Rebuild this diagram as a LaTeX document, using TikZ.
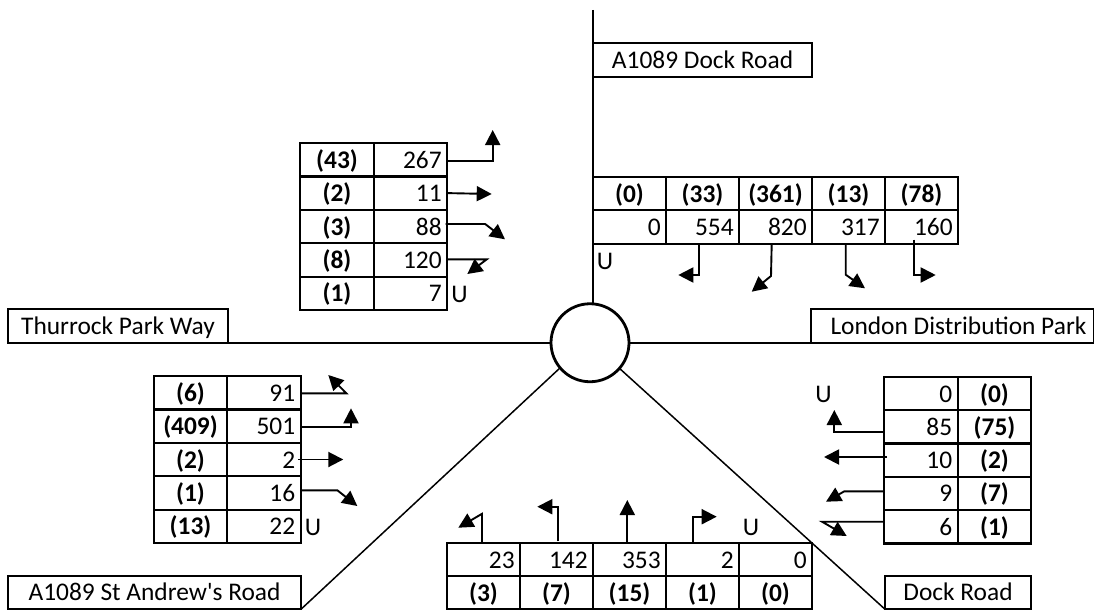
\documentclass[tikz,border=0pt]{standalone}
\usepackage{fontspec}
\setmainfont{Carlito}
\usetikzlibrary{arrows.meta}
\tikzset{
  cell/.style={draw=black,line width=2.2pt,minimum height=33.4pt,inner sep=0pt,outer sep=0pt,
    font=\fontsize{25.4}{25.4}\selectfont,text height=17pt,text depth=0pt},
  numcell/.style={cell,minimum width=73.3pt,text width=62.3pt,inner xsep=5.5pt,align=right},
  boldcell/.style={cell,minimum width=73.3pt,font=\fontsize{25.4}{25.4}\selectfont\bfseries},
  roadlabel/.style={draw=black,line width=2.2pt,minimum height=33.5pt,inner sep=0pt,outer sep=0pt,
    font=\fontsize{25.4}{25.4}\selectfont,text height=16pt,text depth=0pt},
  road/.style={draw=black,line width=2pt},
  diag/.style={draw=black,line width=1.5pt},
  conn/.style={draw=black,line width=1.9pt,-{Triangle[length=15pt,width=15pt]}},
  utext/.style={font=\fontsize{25.4}{25.4}\selectfont,inner sep=0pt,text height=16pt,text depth=0pt}
}
\begin{document}
\begin{tikzpicture}[x=1pt,y=-1pt]
\useasboundingbox (0,0) rectangle (1094,610);
% hub and labels
\node[draw=black,line width=2.8pt,circle,minimum size=78pt,inner sep=0pt,outer sep=0pt,fill=white] (hub) at (590,342.75) {};
\coordinate (top) at (592.5,10);
\node[roadlabel,minimum width=219pt] (north) at (702.5,60) {A1089 Dock Road};
\node[roadlabel,minimum width=220pt] (west) at (118,326) {Thurrock Park Way};
\node[roadlabel,minimum width=283pt] (east) at (952.5,326) {\hspace*{12pt}London Distribution Park};
\node[roadlabel,minimum width=293pt] (sw) at (154.5,592.5) {A1089 St Andrew\textquotesingle s Road};
\node[roadlabel,minimum width=146pt] (se) at (958,592.5) {Dock Road};
% roads
\draw[road] (top) -- (top |- hub.north);
\draw[road] (hub.west) -- (west.south east);
\draw[road] (hub.east) -- (east.south west);
\draw[diag] (hub.220) -- (sw.south east);
\draw[diag] (hub.-41) -- (se.south west);
% table 1
\foreach \r/\yy/\bo/\nu in {a/159.7/43/267,b/193.1/2/11,c/226.5/3/88,d/259.9/8/120,e/293.3/1/7}{
  \node[boldcell] (t1\r b) at (337,\yy) {(\bo)};
  \node[numcell] (t1\r) at (410.5,\yy) {\nu};
}
% table 2
\foreach \r/\xx/\bo/\nu in {a/629.5/0/0,b/702.5/33/554,c/775.5/361/820,d/848.5/13/317,e/921.5/78/160}{
  \node[boldcell] (t2\r b) at (\xx,193.5) {(\bo)};
  \node[numcell] (t2\r) at (\xx,227) {\nu};
}
% table 3
\foreach \r/\yy/\bo/\nu in {a/392.7/6/91,b/426.1/409/501,c/459.5/2/2,d/492.9/1/16,e/526.3/13/22}{
  \node[boldcell] (t3\r b) at (190.5,\yy) {(\bo)};
  \node[numcell] (t3\r) at (264,\yy) {\nu};
}
% table 4
\foreach \r/\yy/\bo/\nu in {a/393.5/0/0,b/426.8/75/85,c/460/2/10,d/493.4/7/9,e/526.7/1/6}{
  \node[numcell] (t4\r) at (921,\yy) {\nu};
  \node[boldcell] (t4\r b) at (994.5,\yy) {(\bo)};
}
% table 5
\foreach \r/\xx/\bo/\nu in {a/483.5/3/23,b/556.5/7/142,c/629.5/15/353,d/702.5/1/2,e/775.5/0/0}{
  \node[numcell] (t5\r) at (\xx,559.5) {\nu};
  \node[boldcell] (t5\r b) at (\xx,592.5) {(\bo)};
}
% U-turn labels
\node[utext] (u1) at (459.5,294) {U};
\node[utext] (u2) at (605,261.5) {U};
\node[utext] (u3) at (313,527) {U};
\node[utext] (u4) at (823.5,394) {U};
\node[utext] (u5) at (751,527.5) {U};
% free ends
\foreach \n/\xx/\yy in {
  p1a/492.7/130, p1b/491.7/194, p1c/505/239.3, p1d/467.3/274,
  p2a/678.3/275, p2b/751.7/291.7, p2c/865/288.3, p2d/935.7/275,
  p3a/328.3/375, p3b/351/408.3, p3c/343.3/459.5, p3d/357.3/506,
  p4b/834.3/410, p4c/824/457, p4d/826/501.7, p4e/846.7/536,
  p5a/458.3/527.7, p5b/537.3/506.7, p5c/627.3/500, p5d/716.7/516.7}{
  \coordinate (\n) at (\xx,\yy);
}
% table 1 connectors
\draw[conn] ([yshift=-1.3pt]t1a.east) -| (p1a);
\draw[conn] (t1b.east) -- (p1b);
\draw[conn] ([xshift=-1.5pt,yshift=2.5pt]t1c.east) -- ++(39.5,0) -- (p1c);
\draw[conn] ([yshift=0.5pt]t1d.east) -- ++(39.5,0) -- (p1d);
% table 2 connectors
\draw[conn] ([xshift=-3.2pt]t2b.south) |- (p2a);
\draw[conn] ([xshift=-3.8pt]t2c.south) -- (771,276) -- (p2b);
\draw[conn] ([xshift=-2.8pt]t2d.south) -- ++(0,31) -- (p2c);
\draw[conn] ([xshift=-7.2pt,yshift=4pt]t2e.south) |- (p2d);
% table 3 connectors
\draw[conn] ([yshift=-0.6pt]t3a.east) -- ++(45.7,0) -- (p3a);
\draw[conn] ([yshift=-1.2pt]t3b.east) -| (p3b);
\draw[conn] ([xshift=-2.7pt]t3c.east) -- (p3c);
\draw[conn] ([yshift=2.6pt]t3d.east) -- ++(36.7,0) -- (p3d);
% table 4 connectors
\draw[conn] ([yshift=-5.5pt]t4b.west) -| (p4b);
\draw[conn] ([xshift=2.7pt,yshift=3pt]t4c.west) -- (p4c);
\draw[conn] ([yshift=2.1pt]t4d.west) -- ++(-40,0) -- (p4d);
\draw[conn] ([yshift=5pt]t4e.west) -- ++(-62.3,0) -- (p4e);
% table 5 connectors
\draw[conn] ([xshift=-1.5pt]t5a.north) -- ++(0,-29) -- (p5a);
\draw[conn] ([xshift=1.8pt,yshift=1.5pt]t5b.north) |- (p5b);
\draw[conn] ([xshift=-2.2pt]t5c.north) -- (p5c);
\draw[conn] ([xshift=-9.2pt]t5d.north) |- (p5d);
\end{tikzpicture}
\end{document}
